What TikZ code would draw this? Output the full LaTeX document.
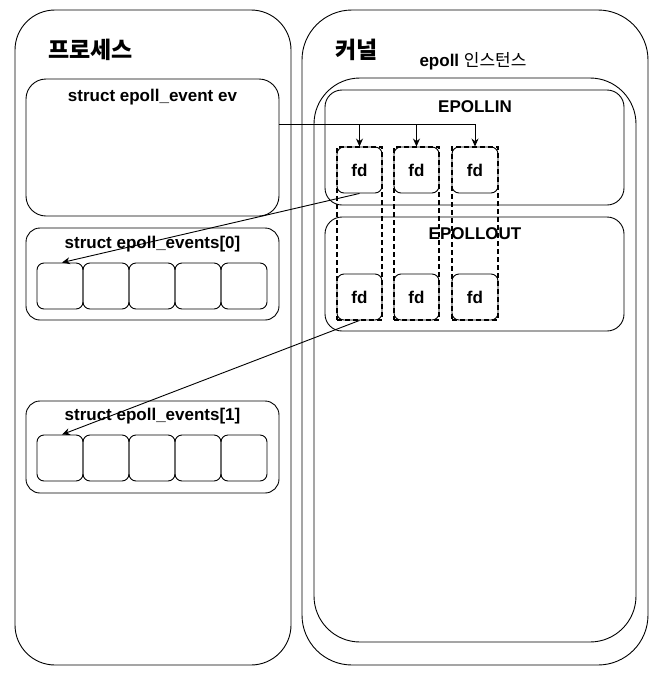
\documentclass[tikz,border=0pt]{standalone}
\usepackage{fontspec}
\setmainfont{Liberation Sans}
\newfontfamily\krfont{Noto Sans CJK KR}
\usetikzlibrary{arrows.meta}
\begin{document}
\begin{tikzpicture}[x=1pt,y=-1pt,
  box/.style={draw, line width=0.9pt, inner sep=0pt, rounded corners=#1},
  cell/.style={box=7pt, minimum width=46pt, minimum height=46pt},
  fdbox/.style={box=7pt, minimum width=45pt, minimum height=46pt, font=\fontsize{17}{19}\selectfont\bfseries},
  col/.style={draw, line width=1.6pt, dash pattern=on 5pt off 3pt, inner sep=0pt, minimum width=45pt, minimum height=173pt},
  lbl/.style={inner sep=0pt, font=\fontsize{17}{19}\selectfont\bfseries},
  big/.style={inner sep=0pt, anchor=west, font=\fontsize{23}{25}\selectfont\krfont\bfseries},
  arr/.style={line width=0.9pt, -{Stealth[length=8pt,width=7pt]}},
  ln/.style={line width=0.9pt}]
\useasboundingbox (0,0) rectangle (660,681);
% outer boxes
\node[box=40pt, minimum width=276pt, minimum height=655pt] (proc) at (153,337.5) {};
\node[box=50pt, minimum width=346pt, minimum height=655pt] (kern) at (475,337.5) {};
\node[box=46pt, minimum width=322pt, minimum height=564pt] (inst) at (475,360) {};
\node[box=17pt, minimum width=299pt, minimum height=115pt] (inbox) at (474.5,147.5) {};
\node[box=17pt, minimum width=299pt, minimum height=114pt] (outbox) at (474.5,274) {};
% process side
\node[box=20pt, minimum width=253pt, minimum height=137pt] (ev) at (152.5,147.5) {};
\node[box=14pt, minimum width=253pt, minimum height=92pt] (e0) at (152.5,274) {};
\node[box=14pt, minimum width=253pt, minimum height=92pt] (e1) at (152.5,447) {};
\foreach \i in {1,...,5} {
  \node[cell] (c0\i) at ({14+46*\i},286) {};
  \node[cell] (c1\i) at ({14+46*\i},458) {};
}
% titles
\node[big] (tproc) at (48,50) {프로세스};
\node[big] (tkern) at (335,50) {커널};
\node[inner sep=0pt, font=\fontsize{17}{19}\selectfont] (tinst) at (473,61) {\textbf{epoll} {\krfont 인스턴스}};
\node[lbl] (tev) at (152.5,97) {struct epoll\_event ev};
\node[lbl] (te0) at (152.5,244) {struct epoll\_events[0]};
\node[lbl] (te1) at (152.5,416) {struct epoll\_events[1]};
\node[lbl] (tin) at (475,107) {EPOLLIN};
\node[lbl] (tout) at (475,234) {EPOLLOUT};
% fd boxes
\node[fdbox] (fdA) at (359.5,170) {fd};
\node[fdbox] (fdB) at (416.5,170) {fd};
\node[fdbox, minimum width=46pt] (fdC) at (475,170) {fd};
\node[fdbox] (fdD) at (359.5,297) {fd};
\node[fdbox] (fdE) at (416.5,297) {fd};
\node[fdbox, minimum width=46pt] (fdF) at (475,297) {fd};
\node[col] (colA) at (359.5,233.5) {};
\node[col] (colB) at (416.5,233.5) {};
\node[col, minimum width=46pt] (colC) at (475,233.5) {};
% connectors
\coordinate (bus) at (475,124);
\draw[ln] (ev.east |- bus) -- (bus);
\draw[arr] (fdA.north |- bus) -- (fdA.north);
\draw[arr] (fdB.north |- bus) -- (fdB.north);
\draw[arr] (bus) -- (fdC.north);
\draw[arr] (fdA.south) -- ([xshift=2pt]c01.north);
\draw[arr] (fdD.south) -- ([xshift=2pt]c11.north);
\end{tikzpicture}
\end{document}
